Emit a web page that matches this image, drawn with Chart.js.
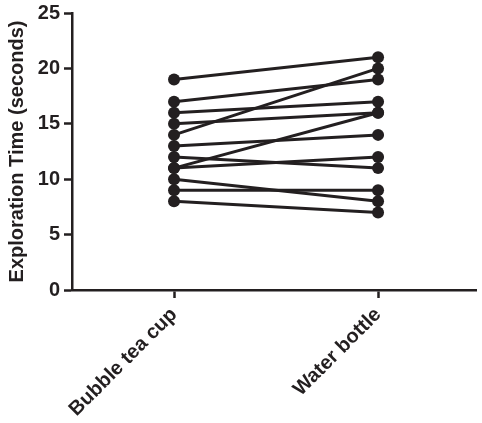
<!DOCTYPE html>
<html>
<head>
<meta charset="utf-8">
<script src="https://cdn.jsdelivr.net/npm/chart.js@4"></script>
<style>
  html, body { margin: 0; padding: 0; background: #fff; }
  #wrap { width: 482px; height: 423px; }
</style>
</head>
<body>
<div id="wrap"><canvas id="pairChart" width="482" height="423"></canvas></div>
<script>
const categories = ['Bubble tea cup', 'Water bottle'];
const bubbleTea = [19, 17, 16, 15, 14, 13, 12, 11, 11, 10, 9, 8];
const waterBottle = [21, 19, 17, 16, 20, 14, 11, 16, 12, 8, 9, 7];
const yTicks = [0, 5, 10, 15, 20, 25];

const ink = '#231f20';
const font = { family: '"Liberation Sans", Arial, sans-serif', size: 20, weight: 'bold' };

const datasets = bubbleTea.map((v, i) => ({
    data: [{ x: 0, y: v }, { x: 1, y: waterBottle[i] }],
    borderColor: ink,
    backgroundColor: ink,
    borderWidth: 3,
    pointRadius: 6,
    pointBorderWidth: 0
}));

const ctx = document.getElementById('pairChart');

new Chart(ctx, {
    type: 'line',
    data: { datasets: datasets },
    options: {
        responsive: false,
        animation: false,
        layout: { padding: { top: 13, right: 0, left: 0, bottom: 0 } },
        plugins: { legend: { display: false }, tooltip: { enabled: false } },
        scales: {
            x: {
                type: 'linear',
                min: -0.5,
                max: 1.48,
                afterBuildTicks: scale => { scale.ticks = [{ value: 0 }, { value: 1 }]; },
                afterFit: scale => { scale.height = 133; },
                ticks: {
                    color: ink,
                    font: font,
                    minRotation: 45,
                    maxRotation: 45,
                    padding: 5,
                    callback: v => categories[v]
                },
                grid: { drawOnChartArea: false, tickLength: 8, tickWidth: 2.5, tickColor: ink },
                border: { color: ink, width: 2.5 }
            },
            y: {
                min: 0,
                max: 25,
                afterBuildTicks: scale => { scale.ticks = yTicks.map(v => ({ value: v })); },
                afterFit: scale => {
                    scale.width = 72;
                    scale.paddingTop = 0;
                    scale.paddingBottom = 0;
                },
                ticks: { color: ink, font: font, padding: 4 },
                grid: { drawOnChartArea: false, tickLength: 8, tickWidth: 2.5, tickColor: ink },
                border: { color: ink, width: 2.5 },
                title: {
                    display: true,
                    text: 'Exploration Time (seconds)',
                    color: ink,
                    font: font,
                    padding: { top: 5, bottom: 0 }
                }
            }
        }
    }
});
</script>
</body>
</html>
